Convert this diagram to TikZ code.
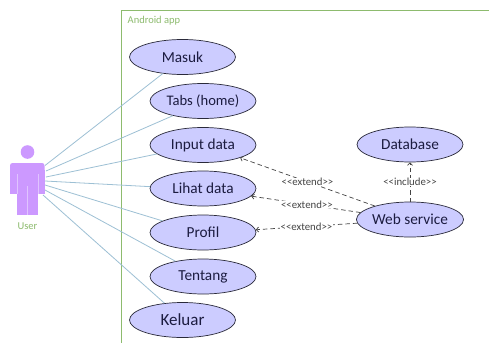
\documentclass[tikz,border=0pt]{standalone}
\usepackage{fontspec}
\setmainfont{Carlito}
\usetikzlibrary{shapes.geometric,arrows.meta}
\definecolor{uc}{HTML}{CCCCFF}
\definecolor{ucline}{HTML}{2A2A3A}
\definecolor{uctext}{HTML}{1C1C40}
\definecolor{assoc}{HTML}{9DC0D4}
\definecolor{frame}{HTML}{8DBB6E}
\definecolor{actorc}{HTML}{CC99FF}
\definecolor{actorgap}{HTML}{E0C4FF}
\definecolor{dep}{HTML}{444444}
\tikzset{
  usecase/.style={ellipse,draw=ucline,fill=uc,line width=0.7pt,minimum width=106pt,minimum height=35pt,inner sep=0pt,text=uctext,font=\fontsize{15.3}{17}\selectfont},
  assocline/.style={draw=assoc,line width=0.8pt},
  depline/.style={draw=dep,line width=0.7pt,dash pattern=on 4.5pt off 3pt,-{Straight Barb[length=2.5pt,width=5pt]}},
  deplabel/.style={fill=white,inner xsep=0.5pt,inner ysep=0pt,text=dep,font=\fontsize{10.8}{12}\selectfont},
  greentext/.style={text=frame,font=\fontsize{10.5}{12}\selectfont,inner sep=0pt},
  actorpart/.style={fill=actorc,draw=none},
  actorseam/.style={draw=actorgap,line width=0.6pt}
}
\begin{document}
\begin{tikzpicture}[x=1pt,y=-1pt]
\useasboundingbox (0,0) rectangle (489,343);
\fill[white] (0,0) rectangle (489,343);
% system frame
\draw[frame,line width=0.8pt] (489,10.5) -- (121.5,10.5) -- (121.5,343);
\node[greentext,anchor=west] (sys) at (127.5,21) {Android app};
% actor
\fill[actorpart] (27.5,152) circle (6.8);
\fill[actorpart,rounded corners=2.5pt] (10,163) rectangle (44.5,175);
\fill[actorpart] (10,170) rectangle (44.5,193.5);
\fill[actorpart] (17,190) rectangle (38,214.5);
\draw[actorseam] (17,174) -- (17,193.5);
\draw[actorseam] (38,174) -- (38,193.5);
\draw[actorseam] (27.5,186) -- (27.5,214.5);
\node[greentext] (user) at (27.5,226) {User};
\coordinate (a1) at (45,165.5);
\coordinate (a2) at (46,171);
\coordinate (a3) at (46,177);
\coordinate (a4) at (45,181);
\coordinate (a5) at (45,185);
\coordinate (a6) at (45,190);
\coordinate (a7) at (43,195);
% use cases
\node[usecase] (masuk) at (182.5,57) {Masuk};
\node[usecase,font=\fontsize{14.6}{16}\selectfont] (tabs) at (203,101) {Tabs (home)};
\node[usecase] (input) at (203,145) {Input data};
\node[usecase] (lihat) at (203,188.5) {Lihat data};
\node[usecase] (profil) at (203,232.5) {Profil};
\node[usecase] (tentang) at (203,276.5) {Tentang};
\node[usecase,font=\fontsize{17}{19}\selectfont] (keluar) at (182.5,320) {Keluar};
\node[usecase] (db) at (410,144.5) {Database};
\node[usecase] (web) at (410,219.5) {Web service};
% associations
\draw[assocline] (a1) -- (masuk.220);
\draw[assocline] (a2) -- (tabs.206);
\draw[assocline] (a3) -- (input.191);
\draw[assocline] (a4) -- (lihat.178);
\draw[assocline] (a5) -- (profil.164);
\draw[assocline] (a6) -- (tentang.151);
\draw[assocline] (a7) -- (keluar.137);
% dependencies
\draw[depline] (web.159) -- node[deplabel,pos=0.5] {<{}<extend>{}>} (input.-19);
\draw[depline] (web.172) -- node[deplabel,pos=0.49] {<{}<extend>{}>} (lihat.-9.5);
\draw[depline] (web.184) -- node[deplabel,pos=0.5] {<{}<extend>{}>} (profil.3);
\draw[depline] (web) ++(0,-17.5) coordinate (webtop) (webtop) -- node[deplabel,pos=0.5] {<{}<include>{}>} (db);
\end{tikzpicture}
\end{document}
